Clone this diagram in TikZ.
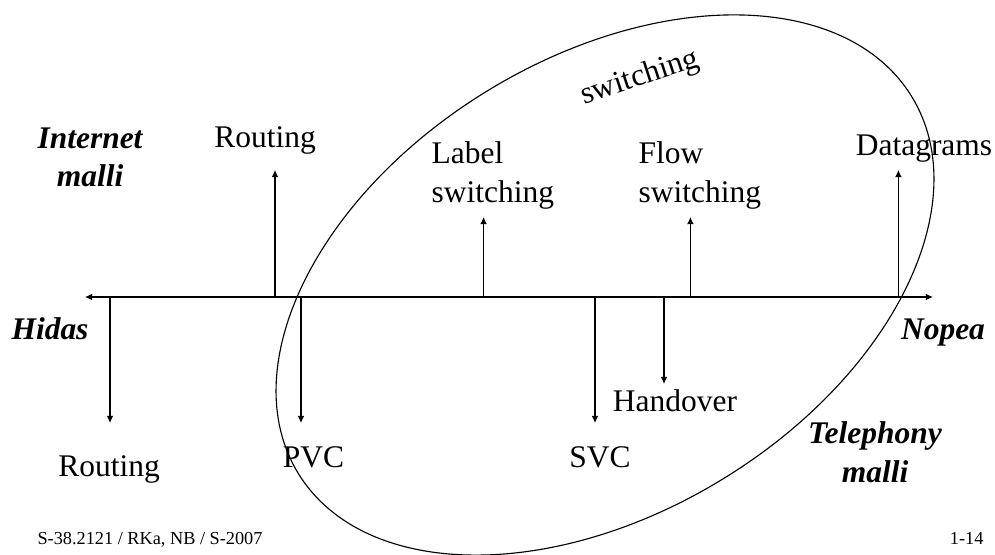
\documentclass[tikz,border=0pt]{standalone}
\usepackage{fontspec}
\setmainfont{Liberation Serif}
\usetikzlibrary{arrows.meta}
\tikzset{
  lbl/.style={font=\fontsize{22.4}{27.6}\selectfont, inner sep=0pt},
  mdl/.style={font=\fontsize{22.4}{27.6}\selectfont\bfseries\itshape, inner sep=0pt, align=center},
  foot/.style={font=\fontsize{13}{15}\selectfont, inner sep=0pt},
}
\begin{document}
\begin{tikzpicture}[>={Latex[length=1.8mm,width=1.7mm]}, line width=0.8pt]
      \useasboundingbox (0,0) rectangle (24.875,13.85);
      %assi
      \coordinate (sx) at (2.125,6.425);
      \coordinate (dx) at (23.325,6.425);
      \draw[<->] (sx) -- (dx);
      \foreach \n/\x/\y in {r1/6.875/9.6, ls/12.09/8.425, fs/17.26/8.425, dg/22.46/9.6,
                            r2/2.75/3.275, pvc/7.525/3.275, svc/14.875/3.275, ho/16.6/4.25}{
        \coordinate (a\n) at (\x,6.425);
        \coordinate (b\n) at (\x,\y);
        \draw[->] (a\n) -- (b\n);
      }
      %ellisse
      \draw[rotate around={31.6:(15.125,6.725)}] (15.125,6.725) ellipse (9cm and 5.675cm);
      \node[lbl, rotate=18] (sw) at (16.0,11.9) {switching};
      %etichette
      \node[lbl, anchor=base] (rup) at (6.625,10.15) {Routing};
      \node[lbl, anchor=north west, align=left] (lsw) at (10.775,10.32) {Label\\switching};
      \node[lbl, anchor=north west, align=left] (fsw) at (15.95,10.32) {Flow\\switching};
      \node[lbl, anchor=base] (dgr) at (23.1,9.95) {Datagrams};
      \node[lbl, anchor=base] (rdn) at (2.725,1.925) {Routing};
      \node[lbl, anchor=base] (pvc) at (7.84,2.175) {PVC};
      \node[lbl, anchor=base] (svc) at (15.0,2.175) {SVC};
      \node[lbl, anchor=base] (hov) at (16.875,3.55) {Handover};
      %modelli
      \node[mdl, anchor=north] (inet) at (2.25,10.675) {Internet\\malli};
      \node[mdl, anchor=north] (tel) at (21.875,3.325) {Telephony\\malli};
      \node[mdl, anchor=base] (hid) at (1.25,5.35) {Hidas};
      \node[mdl, anchor=base] (nop) at (23.575,5.35) {Nopea};
      %pie di pagina
      \node[foot, anchor=base west] (src) at (0.925,0.25) {S-38.2121 / RKa, NB / S-2007};
      \node[foot, anchor=base east] (pg) at (24.6,0.25) {1-14};
\end{tikzpicture}
\end{document}
